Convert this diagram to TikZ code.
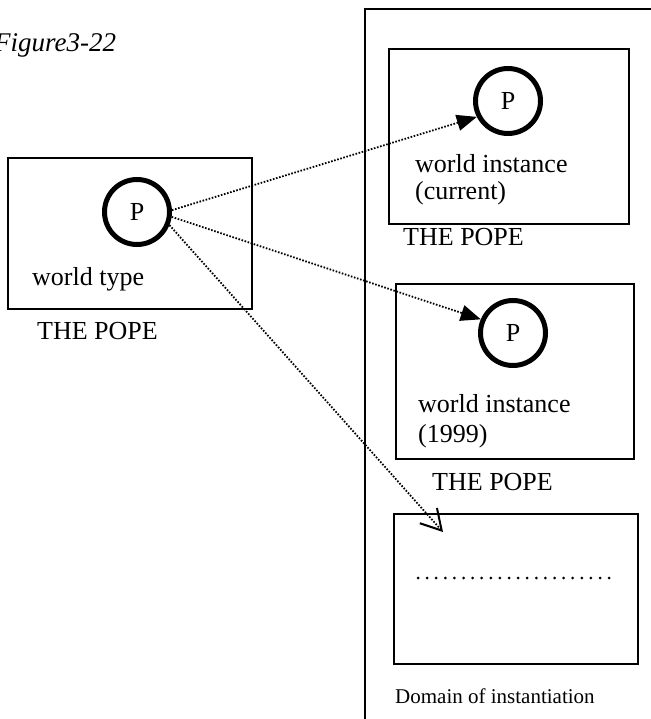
\documentclass[tikz,border=0pt]{standalone}
\usepackage{fontspec}
\setmainfont{Liberation Serif}
\usetikzlibrary{arrows.meta}
\begin{document}
\begin{tikzpicture}[x=1pt,y=-1pt,
  frame/.style={draw, line width=2pt, inner sep=0pt, anchor=north west},
  ring/.style={draw, circle, line width=5pt, inner sep=0pt, minimum size=65pt,
    font=\fontsize{26}{28}\selectfont},
  label/.style={anchor=base west, inner sep=0pt, font=\fontsize{26}{28}\selectfont},
  link/.style={line width=1.8pt, dash pattern=on 1.6pt off 1.6pt},
  solidhead/.style={-{Triangle[length=20pt,width=16pt]}},
  openhead/.style={-{Straight Barb[length=20pt,width=23pt,line width=2pt]}}
]
\useasboundingbox (0,0) rectangle (650,719);

% caption
\node[anchor=base west, inner sep=0pt, font=\fontsize{27}{29}\selectfont\itshape]
  (cap) at (-6,52) {Figure3-22};

% domain of instantiation panel
\draw[line width=2pt] (365,725) -- (365,9) -- (655,9);
\node[anchor=base west, inner sep=0pt, font=\fontsize{21}{23}\selectfont]
  (dom) at (395,703) {Domain of instantiation};

% world type
\node[frame, minimum width=244pt, minimum height=151pt] (lbox) at (7,157) {};
\node[ring] (lp) at (137,212) {P};
\node[label] (ltxt) at (32,285) {world type};
\node[label] (lname) at (37,339) {THE POPE};

% world instance (current)
\node[frame, minimum width=240pt, minimum height=175pt] (tbox) at (388,48) {};
\node[ring] (tp) at (508,101) {P};
\node[label] (ttxt1) at (415,173) {world instance};
\node[label] (ttxt2) at (415,200) {(current)};
\node[label] (tname) at (403,245) {THE POPE};

% world instance (1999)
\node[frame, minimum width=238pt, minimum height=175pt] (mbox) at (395,283) {};
\node[ring] (mp) at (513,333) {P};
\node[label] (mtxt1) at (418,412) {world instance};
\node[label] (mtxt2) at (418,442) {(1999)};
\node[label] (mname) at (432,490) {THE POPE};

% open instance
\node[frame, minimum width=244pt, minimum height=150pt] (bbox) at (393,513) {};
\coordinate (dotsl) at (418,578);
\coordinate (dotsr) at (610,578);
\draw[line width=3pt, line cap=round, dash pattern=on 0pt off 9.1pt] (dotsl) -- (dotsr);
\coordinate (bin) at (443,532);

% instantiation links
\draw[link, solidhead] (lp.3) -- (tp.207);
\draw[link, solidhead] (lp.-8) -- (mp.157);
\draw[link, openhead] (lp.-22) -- (bin);
\end{tikzpicture}
\end{document}
